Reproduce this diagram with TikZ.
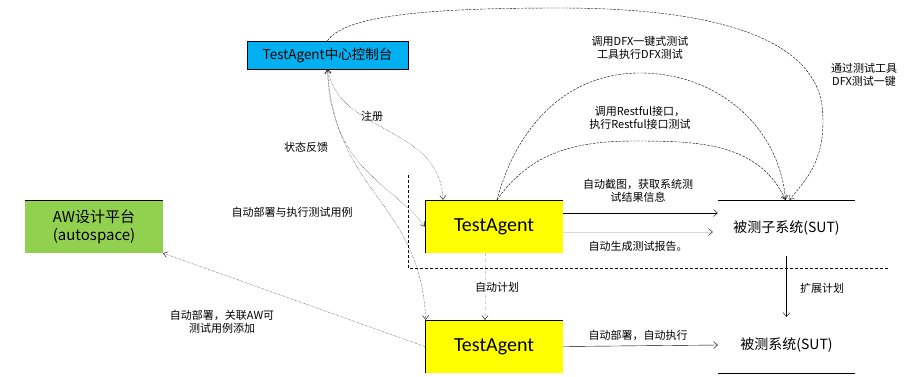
\documentclass[tikz,border=0pt]{standalone}
\usepackage{fontspec}
\setmainfont{Noto Sans CJK SC}
\newfontfamily\latinfont{Carlito}
\usetikzlibrary{positioning}
\usetikzlibrary{arrows.meta}

\definecolor{skyblue}{RGB}{0,176,240}
\definecolor{leafgreen}{RGB}{146,208,80}
\definecolor{agentyellow}{RGB}{255,255,0}

\tikzset{
agentbox/.style={fill=agentyellow,minimum width=138pt,minimum height=53pt,inner sep=0pt,font=\latinfont\fontsize{20}{22}\selectfont},
sutbox/.style={minimum width=137pt,minimum height=56pt,inner sep=0pt,font=\fontsize{14}{16}\selectfont},
lbl/.style={font=\fontsize{11}{13}\selectfont,align=center,inner sep=1pt},
dotline/.style={densely dotted,black,thin,-{Straight Barb[length=4pt,width=6pt]}},
dashline/.style={dash pattern=on 2.5pt off 1.2pt,black,thin,-{Straight Barb[length=4pt,width=6pt]}},
solidarrow/.style={thin,-{Straight Barb[length=4pt,width=7pt]}},
}

\begin{document}
\begin{tikzpicture}[x=1pt,y=-1pt]
\useasboundingbox (0,0) rectangle (904,376);

% boxes
\node[fill=skyblue,draw,minimum width=161pt,minimum height=28pt,inner sep=0pt,font=\fontsize{13.5}{15}\selectfont] (center) at (327.5,55) {TestAgent中心控制台};
\node[fill=leafgreen,minimum width=138pt,minimum height=53pt,inner sep=0pt,align=center,font=\fontsize{15}{18}\selectfont] (aw) at (94,226.5) {AW设计平台\\(autospace)};
\node[agentbox] (ta1) at (494,226.5) {TestAgent};
\node[agentbox] (ta2) at (494,346.5) {TestAgent};
\node[sutbox] (sut1) at (786.5,228) {被测子系统(SUT)};
\node[sutbox] (sut2) at (786.5,345) {被测系统(SUT)};

\draw (ta1.south west) |- (ta1.north east);
\draw (ta2.south west) |- (ta2.north east);
\draw (aw.north west) -- (aw.north east);
\draw (sut1.north west) -- (sut1.north east);
\draw (sut2.south west) -- (sut2.south east);

% separator
\draw[dash pattern=on 3pt off 2pt,thin] (408,175) |- (888,268);

% TestAgent -> SUT
\draw[solidarrow] ([yshift=13.5pt]ta1.east) -- ([yshift=13.5pt]ta1.east -| sut1.west);
\node[lbl] (shot) at (638,191) {自动截图，获取系统测\\试结果信息};
\draw[white!85!black,-{Straight Barb[length=4pt,width=7pt,black]}] ([yshift=-5.5pt]ta1.east) -- ([yshift=-5.5pt,xshift=-5pt]ta1.east -| sut1.west);
\node[lbl] (report) at (638,246) {自动生成测试报告。};
\draw[solidarrow] (sut1.south) -- (sut2.north);
\node[lbl] (expand) at (822,288) {扩展计划};
\draw[solidarrow] (ta2.east) -- (sut2.west);
\node[lbl] (deploy) at (638,335) {自动部署，自动执行};
\draw[white!80!black,dashed,-{Straight Barb[length=4pt,width=6pt,black]}] ([xshift=-9pt]ta1.south) -- ([xshift=-9pt]ta2.north);
\node[lbl] (plan) at (497,287) {自动计划};

% center -> agents
\draw[dotline,{Straight Barb[length=4pt,width=6pt]}-{Straight Barb[length=4pt,width=6pt]}] (center.south) .. controls (340,135) and (440,125) .. ([xshift=-51pt]ta1.north);
\node[lbl] (reg) at (372,116) {注册};
\draw[dotline,{Straight Barb[length=4pt,width=6pt]}-{Straight Barb[length=4pt,width=6pt]}] (center.south) .. controls (330,170) and (395,185) .. (ta1.west);
\node[lbl] (state) at (306,147) {状态反馈};
\draw[dotline] (center.south) .. controls (335,195) and (420,200) .. ([xshift=1pt]ta2.north west);
\node[lbl] (exec) at (292,212) {自动部署与执行测试用例};

% AW
\draw[dotline] (ta2.west) -- (aw.south east);
\node[lbl] (awlbl) at (222,322) {自动部署，关联AW可\\测试用例添加};

% arcs to SUT
\draw[dashline] (center.north) .. controls (345,15) and (430,8) .. (560,8) .. controls (720,8) and (812,40) .. (822,105) .. controls (828,160) and (805,180) .. ([xshift=3pt]sut1.north);
\node[lbl] (onekey) at (864,75) {通过测试工具\\DFX测试一键};
\draw[dashline] ([xshift=3pt]ta1.north) to[out=75,in=180] (640,73) to[out=0,in=95] ([xshift=-1pt]sut1.north);
\node[lbl] (dfx) at (640,48) {调用DFX一键式测试\\工具执行DFX测试};
\draw[dashline] ([xshift=3pt]ta1.north) to[out=55,in=180] (635,141) to[out=0,in=115] ([xshift=-1pt]sut1.north);
\node[lbl] (rest) at (640,118) {调用Restful接口，\\执行Restful接口测试};

\end{tikzpicture}
\end{document}
